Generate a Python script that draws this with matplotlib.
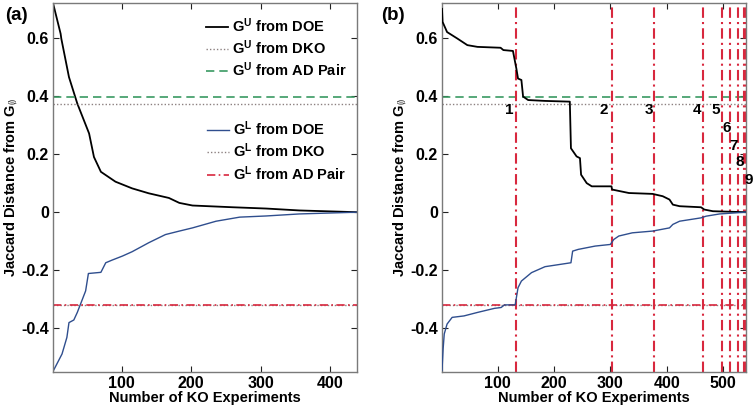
import matplotlib
matplotlib.use("Agg")
import matplotlib.pyplot as plt

plt.rcParams['font.family'] = ['Liberation Sans', 'DejaVu Sans']
plt.rcParams['font.weight'] = 'bold'
plt.rcParams['mathtext.fontset'] = 'custom'
plt.rcParams['mathtext.rm'] = 'Liberation Sans:bold'
plt.rcParams['mathtext.bf'] = 'Liberation Sans:bold'
plt.rcParams['mathtext.it'] = 'Liberation Sans:bold:italic'
plt.rcParams['mathtext.default'] = 'bf'

# ---------------- data ----------------
# Panel (a)
a_upper_x = [1, 12, 13, 24, 36, 53, 60, 70, 91, 115, 139, 168, 183, 202, 260, 308, 356, 439]
a_upper_y = [0.72, 0.614, 0.597, 0.465, 0.374, 0.271, 0.19, 0.139, 0.105, 0.082, 0.065, 0.049,
             0.032, 0.023, 0.017, 0.0126, 0.006, 0.0]
a_lower_x = [1, 14, 21, 24, 31, 36, 48, 52, 70, 77, 86, 101, 115, 139, 163, 183, 202, 236, 270,
             308, 356, 439]
a_lower_y = [-0.548, -0.488, -0.431, -0.38, -0.371, -0.345, -0.271, -0.211, -0.207, -0.174, -0.165,
             -0.151, -0.136, -0.105, -0.077, -0.065, -0.054, -0.031, -0.017, -0.013, -0.006, 0.0]

# Panel (b)
b_upper_x = [1, 2, 10, 28, 46, 64, 105, 110, 127, 133, 136, 142, 145, 154, 184, 228, 230, 240, 246,
             248, 258, 267, 302, 303, 333, 375, 393, 405, 411, 423, 461, 467, 482, 540]
b_upper_y = [0.70, 0.655, 0.62, 0.598, 0.575, 0.569, 0.566, 0.558, 0.555, 0.495, 0.46, 0.455, 0.398,
             0.386, 0.383, 0.3805, 0.22, 0.192, 0.186, 0.129, 0.10, 0.089, 0.089, 0.078, 0.066,
             0.063, 0.055, 0.0435, 0.026, 0.0206, 0.017, 0.009, 0.0034, 0.0]
b_lower_x = [1, 3, 5, 10, 19, 40, 64, 94, 106, 112, 131, 136, 142, 160, 184, 213, 230, 233, 243,
             273, 300, 306, 315, 339, 375, 405, 411, 423, 461, 470, 494, 540]
b_lower_y = [-0.545, -0.47, -0.419, -0.385, -0.362, -0.357, -0.345, -0.331, -0.328, -0.319, -0.319,
             -0.26, -0.237, -0.208, -0.1875, -0.179, -0.174, -0.134, -0.128, -0.1166, -0.111,
             -0.094, -0.082, -0.071, -0.065, -0.054, -0.042, -0.031, -0.0195, -0.0137, -0.006, 0.0]

ad_upper = 0.395
dko_upper = 0.374
ad_lower = -0.32
dko_lower = -0.32

vlines_b = [133, 303, 377, 465, 498, 512, 526, 538, 540]
vlabels = ['1', '2', '3', '4', '5', '6', '7', '8', '9']
vlabel_x = [120, 288, 369, 453, 487, 506, 518, 530, 546]
vlabel_y = [0.351, 0.351, 0.351, 0.351, 0.351, 0.289, 0.227, 0.172, 0.111]

yticks = [-0.4, -0.2, 0, 0.2, 0.4, 0.6]
yticklabels = ['-0.4', '-0.2', '0', '0.2', '0.4', '0.6']
a_xticks = [100, 200, 300, 400]
b_xticks = [100, 200, 300, 400, 500]

# ---------------- styles ----------------
C_BLACK = '#000000'
C_BLUE = '#2f4e8e'
C_GREEN = '#3a9a62'
C_GRAY = '#8c8080'
C_RED = '#d8283e'
SPINE = '#7a7a7a'

W, H = 755, 407
fig = plt.figure(figsize=(W / 100, H / 100), dpi=100)
ax_a = fig.add_axes([53 / W, 1 - 372 / H, 304 / W, 369 / H])
ax_b = fig.add_axes([442 / W, 1 - 372 / H, 303.5 / W, 369 / H])

ylab = r'Jaccard Distance from G$_{\emptyset}$'

for ax, xlim, xt in [(ax_a, (1, 439), a_xticks), (ax_b, (1, 540), b_xticks)]:
    ax.set_xlim(*xlim)
    ax.set_ylim(-0.55, 0.72)
    ax.set_xticks(xt)
    ax.set_xticklabels([str(v) for v in xt])
    ax.set_yticks(yticks)
    ax.set_yticklabels(yticklabels)
    ax.tick_params(direction='in', top=True, right=True, length=4, width=0.8,
                   labelsize=11.5, pad=3, color='#222222')
    for s in ax.spines.values():
        s.set_color(SPINE)
        s.set_linewidth(1.0)
    ax.set_xlabel('Number of KO Experiments', fontsize=10.5, fontweight='bold', labelpad=0)
    ax.set_ylabel(ylab, fontsize=10.5, fontweight='bold', labelpad=1)

# ---- panel (a)
l1, = ax_a.plot(a_upper_x, a_upper_y, color=C_BLACK, lw=1.3)
l2 = ax_a.axhline(dko_upper, color=C_GRAY, ls=(0, (1, 1.5)), lw=1.0)
l3 = ax_a.axhline(ad_upper, color=C_GREEN, ls=(0, (5, 3)), lw=1.2)
l4, = ax_a.plot(a_lower_x, a_lower_y, color=C_BLUE, lw=1.0)
l5 = ax_a.axhline(dko_lower, color=C_GRAY, ls=(0, (1, 1.5)), lw=1.0)
l6 = ax_a.axhline(ad_lower, color=C_RED, ls=(0, (5, 2, 1, 2)), lw=1.2)

leg_kw = dict(loc='upper right', frameon=False, fontsize=10.5, handlelength=1.5,
              handletextpad=0.3, labelspacing=0.25, borderaxespad=0.0)
leg1 = ax_a.legend([l1, l2, l3],
                   [r'G$^{\mathbf{U}}$ from DOE', r'G$^{\mathbf{U}}$ from DKO', r'G$^{\mathbf{U}}$ from AD Pair'],
                   bbox_to_anchor=(0.985, 0.98), **leg_kw)
ax_a.add_artist(leg1)
ax_a.legend([l4, l5, l6],
            [r'G$^{\mathbf{L}}$ from DOE', r'G$^{\mathbf{L}}$ from DKO', r'G$^{\mathbf{L}}$ from AD Pair'],
            bbox_to_anchor=(0.985, 0.70), **leg_kw)

# ---- panel (b)
ax_b.plot(b_upper_x, b_upper_y, color=C_BLACK, lw=1.3, zorder=3)
ax_b.plot(b_lower_x, b_lower_y, color=C_BLUE, lw=1.0, zorder=3)
ax_b.axhline(dko_upper, color=C_GRAY, ls=(0, (1, 1.5)), lw=1.0)
ax_b.axhline(ad_upper, color=C_GREEN, ls=(0, (5, 3)), lw=1.2)
ax_b.axhline(dko_lower, color=C_GRAY, ls=(0, (1, 1.5)), lw=1.0)
ax_b.axhline(ad_lower, color=C_RED, ls=(0, (5, 2, 1, 2)), lw=1.2)
for xv in vlines_b:
    ax_b.axvline(xv, color=C_RED, ls=(0, (5, 2, 1, 2)), lw=1.5, zorder=2)
for t, xv, yv in zip(vlabels, vlabel_x, vlabel_y):
    ax_b.text(xv, yv, t, fontsize=11, fontweight='bold', ha='center', va='center',
              clip_on=False, zorder=4)

fig.text(5 / W, 1 - 15 / H, '(a)', fontsize=13.5, fontweight='bold', ha='left', va='center')
fig.text(381 / W, 1 - 15 / H, '(b)', fontsize=13.5, fontweight='bold', ha='left', va='center')

fig.savefig('out.png', dpi=100)
